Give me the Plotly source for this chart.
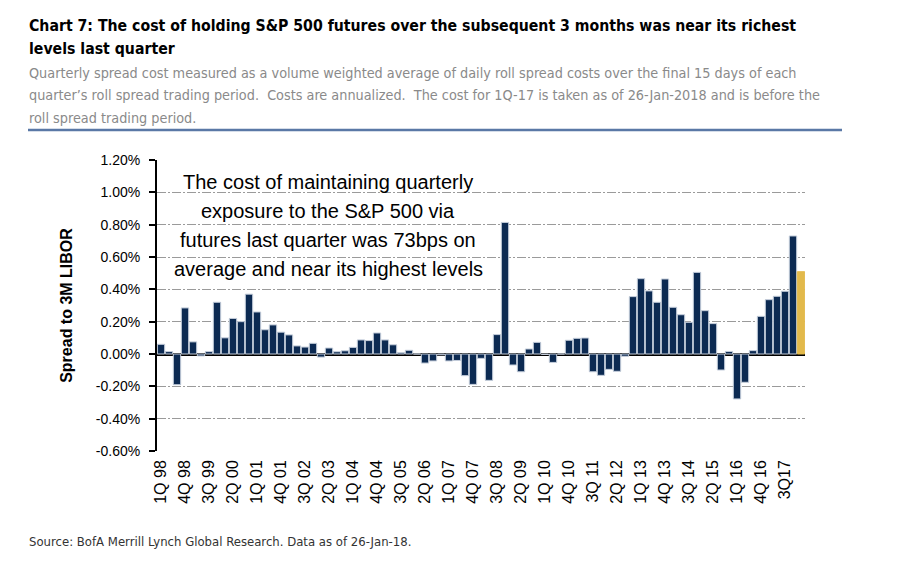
import plotly.graph_objects as go

quarters = [
    "1Q 98", "2Q 98", "3Q 98", "4Q 98", "1Q 99", "2Q 99", "3Q 99", "4Q 99",
    "1Q 00", "2Q 00", "3Q 00", "4Q 00", "1Q 01", "2Q 01", "3Q 01", "4Q 01",
    "1Q 02", "2Q 02", "3Q 02", "4Q 02", "1Q 03", "2Q 03", "3Q 03", "4Q 03",
    "1Q 04", "2Q 04", "3Q 04", "4Q 04", "1Q 05", "2Q 05", "3Q 05", "4Q 05",
    "1Q 06", "2Q 06", "3Q 06", "4Q 06", "1Q 07", "2Q 07", "3Q 07", "4Q 07",
    "1Q 08", "2Q 08", "3Q 08", "4Q 08", "1Q 09", "2Q 09", "3Q 09", "4Q 09",
    "1Q 10", "2Q 10", "3Q 10", "4Q 10", "1Q 11", "2Q 11", "3Q 11", "4Q 11",
    "1Q 12", "2Q 12", "3Q 12", "4Q 12", "1Q 13", "2Q 13", "3Q 13", "4Q 13",
    "1Q 14", "2Q 14", "3Q 14", "4Q 14", "1Q 15", "2Q 15", "3Q 15", "4Q 15",
    "1Q 16", "2Q 16", "3Q 16", "4Q 16", "1Q 17", "2Q 17", "3Q17", "4Q17",
    "1Q18",
]

spread_pct = [
    0.060, 0.015, -0.190, 0.285, 0.075, -0.012, 0.015, 0.320,
    0.100, 0.220, 0.200, 0.370, 0.260, 0.150, 0.180, 0.135,
    0.118, 0.050, 0.043, 0.066, -0.019, 0.037, 0.014, 0.020,
    0.041, 0.087, 0.083, 0.130, 0.087, 0.057, 0.008, 0.023,
    0.000, -0.056, -0.043, -0.005, -0.043, -0.040, -0.134, -0.188,
    -0.027, -0.163, 0.120, 0.814, -0.068, -0.110, 0.031, 0.072,
    -0.003, -0.052, 0.000, 0.085, 0.097, 0.099, -0.110, -0.132,
    -0.095, -0.107, -0.014, 0.355, 0.466, 0.390, 0.320, 0.464,
    0.289, 0.243, 0.196, 0.505, 0.268, 0.188, -0.099, 0.016,
    -0.278, -0.175, 0.021, 0.233, 0.336, 0.357, 0.388, 0.730,
    0.509,
]

tick_labels = quarters[::3]
y_ticks = [1.2, 1.0, 0.8, 0.6, 0.4, 0.2, 0.0, -0.2, -0.4, -0.6]
y_tick_text = ["1.20%", "1.00%", "0.80%", "0.60%", "0.40%", "0.20%", "0.00%",
               "-0.20%", "-0.40%", "-0.60%"]

title_lines = [
    "Chart 7: The cost of holding S&P 500 futures over the subsequent 3 months was near its richest",
    "levels last quarter",
]
subtitle_lines = [
    "Quarterly spread cost measured as a volume weighted average of daily roll spread costs over the final 15 days of each",
    "quarter\u2019s roll spread trading period.  Costs are annualized.  The cost for 1Q-17 is taken as of 26-Jan-2018 and is before the",
    "roll spread trading period.",
]
note_lines = [
    "The cost of maintaining quarterly",
    "exposure to the S&P 500 via",
    "futures last quarter was 73bps on",
    "average and near its highest levels",
]
source_text = "Source: BofA Merrill Lynch Global Research. Data as of 26-Jan-18."

NAVY = "#0c2a52"
GOLD = "#e2b94b"
colors = [NAVY] * (len(quarters) - 1) + [GOLD]
line_colors = ["#c5cedb"] * (len(quarters) - 1) + [GOLD]

# page body has an 8px margin; figure coordinates are page coordinates minus 8
OFF = 8
W, H = 903 - OFF, 576 - OFF
L, T = 157 - OFF, 160 - OFF
R = W - (805 - OFF)
B = H - (451 - OFF)
PW, PH = W - L - R, H - T - B

COND = "DejaVu Sans Condensed, Roboto, sans-serif"
ARIAL = "Arial, Liberation Sans, sans-serif"


def px(x):
    return (x - OFF - L) / PW


def py(y):
    return (H - B - (y - OFF)) / PH


fig = go.Figure()
fig.add_trace(go.Bar(
    x=quarters, y=spread_pct,
    marker=dict(color=colors, line=dict(color=line_colors, width=1)),
    showlegend=False,
))

fig.update_layout(
    width=W, height=H,
    margin=dict(l=L, r=R, t=T, b=B, autoexpand=False),
    paper_bgcolor="white", plot_bgcolor="white",
    bargap=0.08,
    font=dict(family=ARIAL, color="black"),
)

fig.update_xaxes(
    type="category",
    tickmode="array", tickvals=tick_labels, ticktext=tick_labels,
    tickangle=-90, tickfont=dict(size=16, family=ARIAL, color="black"),
    ticks="", showgrid=False, showline=False, zeroline=False,
    range=[-0.5, len(quarters) - 0.5],
    ticklabelstandoff=5,
)

fig.update_yaxes(
    range=[-0.6, 1.2],
    tickmode="array", tickvals=y_ticks, ticktext=y_tick_text,
    tickfont=dict(size=14, family=ARIAL, color="black"),
    ticks="outside", ticklen=6, tickcolor="black", tickwidth=1.5,
    showline=True, linecolor="black", linewidth=2,
    showgrid=True, gridcolor="#9a9a9a", gridwidth=1, griddash="9px,2px,2px,2px",
    zeroline=True, zerolinecolor="black", zerolinewidth=2.5,
    ticklabelstandoff=6,
    title=dict(text="<b>Spread to 3M LIBOR</b>", font=dict(size=16, family=ARIAL),
               standoff=19),
)

annotations = []
for i, t in enumerate(title_lines):
    annotations.append(dict(
        text="<b>" + t + "</b>", xref="paper", yref="paper",
        x=px(27), y=py(25 + i * 23), xanchor="left", yanchor="middle",
        showarrow=False, font=dict(size=15.7, family=COND, color="black"),
    ))
for i, t in enumerate(subtitle_lines):
    annotations.append(dict(
        text=t, xref="paper", yref="paper",
        x=px(27), y=py(73 + i * 22.5), xanchor="left", yanchor="middle",
        showarrow=False, font=dict(size=14.3, family=COND, color="#8a8a8a"),
    ))
for i, t in enumerate(note_lines):
    annotations.append(dict(
        text=t, xref="paper", yref="paper",
        x=px(328), y=py(182 + i * 29), xanchor="center", yanchor="middle",
        showarrow=False, font=dict(size=20, family=ARIAL, color="black"),
    ))
annotations.append(dict(
    text=source_text, xref="paper", yref="paper",
    x=px(27), y=py(541), xanchor="left", yanchor="middle",
    showarrow=False, font=dict(size=13, family=COND, color="#333333"),
))
fig.update_layout(annotations=annotations)

fig.add_shape(type="line", xref="paper", yref="paper",
              x0=px(28), x1=px(842), y0=py(130), y1=py(130),
              line=dict(color="#5a78a6", width=2.5))

fig.write_html("out.html")
